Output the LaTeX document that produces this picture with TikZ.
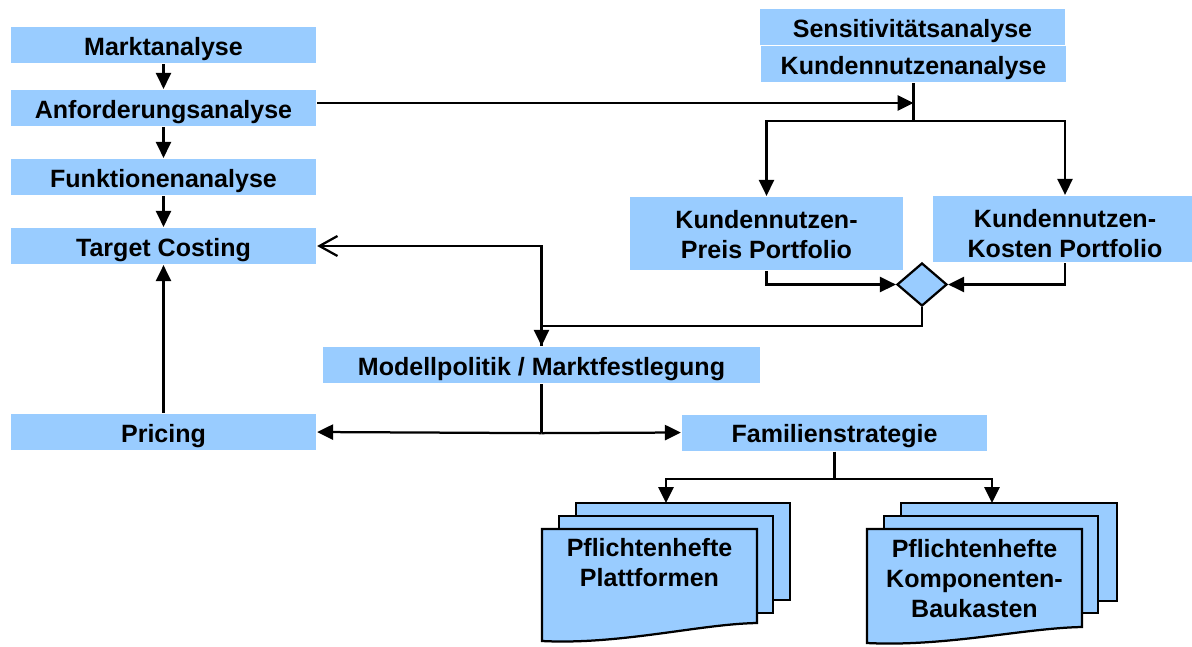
\documentclass[tikz,border=0pt]{standalone}
\usepackage{fontspec}
\setmainfont{Liberation Sans}
\usetikzlibrary{arrows.meta,shapes.geometric}
\definecolor{boxblue}{HTML}{99CCFF}

\begin{document}
\begin{tikzpicture}[
    x=0.025cm, y=-0.025cm,
    line width=1.6pt,
    every node/.style={font=\fontsize{17.8}{21.3}\selectfont\bfseries},
    box/.style={rectangle, fill=boxblue, inner xsep=0pt, inner ysep=0pt,
        minimum height=0.9cm, text height=0.7cm, text depth=0.2cm},
    twobox/.style={box, align=center},
    sheet/.style={draw=black, fill=boxblue},
    arr/.style={-{Triangle[length=0.4cm,width=0.38cm]}},
    openarr/.style={-{Straight Barb[length=0.45cm,width=0.5cm]}}
]

\useasboundingbox (0,0) rectangle (1192,646);

% ================= left column =================

\node[box, minimum width=7.625cm] (markt) at (163.5,45) {Marktanalyse};
\node[box, minimum width=7.625cm] (anford) at (163.5,108) {Anforderungsanalyse};
\node[box, minimum width=7.625cm] (funkt) at (163.5,177) {Funktionenanalyse};
\node[box, minimum width=7.625cm] (target) at (163.5,246) {Target Costing};
\node[box, minimum width=7.625cm] (pricing) at (163.5,432) {Pricing};

\draw[arr] (markt) -- (anford);
\draw[arr] (anford) -- (funkt);
\draw[arr] (funkt) -- (target);
\draw[arr] (pricing) -- (target);

% ================= customer value =================

\node[box, minimum width=7.625cm] (sens) at (912.5,27) {Sensitivitätsanalyse};
\node[box, minimum width=7.625cm] (kundan) at (913.5,64) {Kundennutzenanalyse};

\node[twobox, minimum width=6.825cm, minimum height=1.825cm,
      text height=1.525cm, text depth=0.3cm] (preis) at (766.5,233.5)
      {Kundennutzen-\\Preis Portfolio};
\node[twobox, minimum width=6.6cm, minimum height=1.65cm,
      text height=1.525cm, text depth=0.125cm] (kosten) at (1065,229)
      {Kundennutzen-\\Kosten Portfolio};

\node[diamond, draw, fill=boxblue, inner sep=0pt,
      minimum width=1.25cm, minimum height=1.075cm] (dia) at (922,284.5) {};

\draw[arr] ([yshift=0.125cm]anford.east) -- ([yshift=0.125cm]anford.east -| kundan.south);
\draw (kundan.south) -- ++(0,38) coordinate (kn);
\draw[arr] (kn) -| (preis.north);
\draw[arr] (kn) -| (kosten.north);

\draw[arr] (preis.south) |- (dia.west);
\draw[arr] (kosten.south) |- (dia.east);

% ================= model policy =================

\node[box, minimum width=10.925cm] (modell) at (541.5,365) {Modellpolitik / Marktfestlegung};
\node[box, minimum width=7.625cm] (famil) at (834.5,432.5) {Familienstrategie};

\draw[arr] (dia.south) -- ++(0,19) -| (modell.north);
\draw[openarr] (modell.north) |- (target.east);

\draw (modell.south) -- ++(0,49) coordinate (mp);
\draw[arr] (mp) -- (pricing.east);
\draw[arr] (mp) -- (famil.west);

% ================= specification stacks =================

\draw[sheet] (576,503) rectangle (790,600);
\draw[sheet] (559,516) rectangle (773,613);
\draw[sheet] (542,529) -- (757,529) -- (757,623)
    .. controls (700,624) and (620,645) .. (542,641) -- cycle;

\draw[sheet] (901,503) rectangle (1117,601);
\draw[sheet] (884,516) rectangle (1098,613);
\draw[sheet] (867,529) -- (1082,529) -- (1082,627)
    .. controls (1025,628) and (945,647) .. (867,643) -- cycle;

\node[align=center, inner sep=0pt, text height=1.425cm, text depth=0.35cm]
    (plattf) at (649.5,564.5) {Pflichtenhefte\\Plattformen};
\node[align=center, inner sep=0pt, text height=2.2cm, text depth=0.25cm]
    (bauk) at (974.5,578) {Pflichtenhefte\\Komponenten-\\Baukasten};

\coordinate (plattfin) at (666,503);
\coordinate (baukin) at (992,503);

\draw (famil.south) -- ++(0,27) coordinate (fs);
\draw[arr] (fs) -| (plattfin);
\draw[arr] (fs) -| (baukin);

\end{tikzpicture}
\end{document}
